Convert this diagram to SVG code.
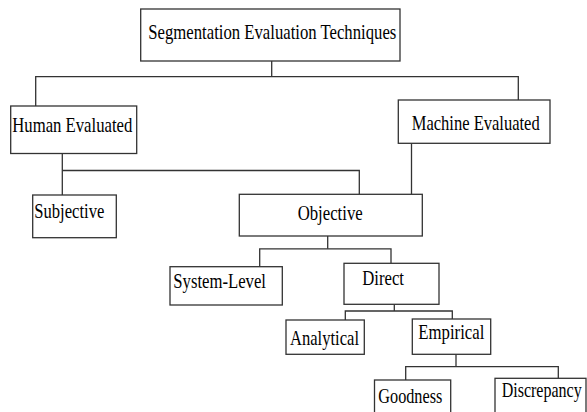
<svg xmlns="http://www.w3.org/2000/svg" width="587" height="412" viewBox="0 0 587 412">
<style>
.box{fill:#fff;stroke:#333;stroke-width:1.3}
.ln{fill:none;stroke:#333;stroke-width:1.3}
text{font-family:"Liberation Serif","Times New Roman",serif;font-size:21px;fill:#000}
</style>
<rect width="587" height="412" fill="#fff"/>
<g id="connectors">
<polyline class="ln" points="271.7,61 271.7,76.7"/>
<polyline class="ln" points="35.7,106 35.7,76.7 518.3,76.7 518.3,100"/>
<polyline class="ln" points="62.3,153.5 62.3,195"/>
<polyline class="ln" points="62.3,170.5 359.3,170.5 359.3,194.3"/>
<polyline class="ln" points="411.5,143.3 411.5,194.3"/>
<polyline class="ln" points="327.7,236 327.7,248.8"/>
<polyline class="ln" points="259.7,266.7 259.7,248.8 391,248.8 391,263.3"/>
<polyline class="ln" points="394.3,304.3 394.3,311"/>
<polyline class="ln" points="345.3,320 345.3,311 452.3,311 452.3,319"/>
<polyline class="ln" points="456,354.3 456,366.7"/>
<polyline class="ln" points="405.7,380 405.7,366.7 558.3,366.7 558.3,378.3"/>
</g>
<g id="n-root"><rect class="box" x="140.7" y="9" width="259.3" height="52"/><text x="148.3" y="39" textLength="248" lengthAdjust="spacingAndGlyphs">Segmentation Evaluation Techniques</text></g>
<g id="n-human"><rect class="box" x="10.7" y="106" width="126" height="47.5"/><text x="12.3" y="132" textLength="120" lengthAdjust="spacingAndGlyphs">Human Evaluated</text></g>
<g id="n-machine"><rect class="box" x="398.3" y="100" width="151.7" height="43.3"/><text x="411.7" y="130" textLength="128" lengthAdjust="spacingAndGlyphs">Machine Evaluated</text></g>
<g id="n-subjective"><rect class="box" x="32.7" y="195" width="83.6" height="42.7"/><text x="34.3" y="218" textLength="70" lengthAdjust="spacingAndGlyphs">Subjective</text></g>
<g id="n-objective"><rect class="box" x="239.3" y="194.3" width="183" height="41.7"/><text x="297.7" y="220" textLength="65" lengthAdjust="spacingAndGlyphs">Objective</text></g>
<g id="n-system"><rect class="box" x="170" y="266.7" width="112.3" height="38.3"/><text x="173.3" y="288" textLength="92.7" lengthAdjust="spacingAndGlyphs">System-Level</text></g>
<g id="n-direct"><rect class="box" x="344" y="263.3" width="95" height="41"/><text x="362.3" y="285" textLength="41.7" lengthAdjust="spacingAndGlyphs">Direct</text></g>
<g id="n-analytical"><rect class="box" x="286" y="320" width="78.3" height="34.3"/><text x="290" y="345" textLength="69" lengthAdjust="spacingAndGlyphs">Analytical</text></g>
<g id="n-empirical"><rect class="box" x="412.3" y="319" width="78.4" height="35.3"/><text x="418.3" y="339" textLength="66" lengthAdjust="spacingAndGlyphs">Empirical</text></g>
<g id="n-goodness"><rect class="box" x="374.5" y="380" width="76.2" height="40"/><text x="378.3" y="403" textLength="64" lengthAdjust="spacingAndGlyphs">Goodness</text></g>
<g id="n-discrepancy"><rect class="box" x="495" y="378.3" width="91" height="42"/><text x="501.7" y="397" textLength="80" lengthAdjust="spacingAndGlyphs">Discrepancy</text></g>
</svg>
